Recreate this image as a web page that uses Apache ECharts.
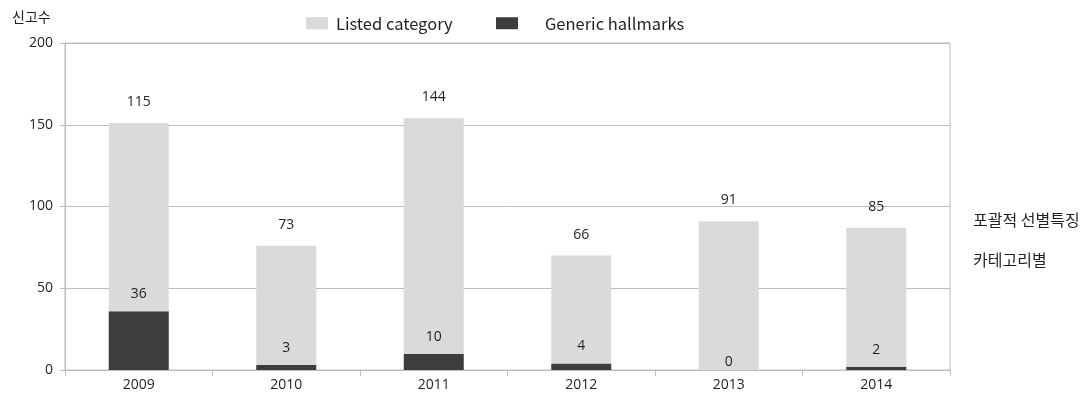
<!DOCTYPE html>
<html><head><meta charset="utf-8">
<script src="https://cdn.jsdelivr.net/npm/echarts@6/dist/echarts.min.js"></script>
<style>html,body{margin:0;padding:0;background:#fff}#c{width:1087px;height:399px}</style>
</head><body><div id="c"></div>
<script>
const categories = ['2009','2010','2011','2012','2013','2014'];
const listedCategory = [115, 73, 144, 66, 91, 85];
const genericHallmarks = [36, 3, 10, 4, 0, 2];
const yTicks = {min: 0, max: 200, interval: 50};
const yName = '신고수';
const sideNotes = ['포괄적 선별특징', '카테고리별'];

const numFont = '"Open Sans", "Noto Sans", sans-serif';
const krFont = '"Noto Sans CJK KR", sans-serif';
const chart = echarts.init(document.getElementById('c'));
chart.setOption({
  animation: false,
  grid: {left: 65, right: 137, top: 43, bottom: 29, show: true, borderColor: '#bdbdbd', borderWidth: 1},
  legend: [
    {data: ['Listed category'], left: 301, top: 10, itemWidth: 22, itemHeight: 12, icon: 'rect',
     textStyle: {fontFamily: krFont, fontSize: 16.5, color: '#231f20', padding: [0,0,0,3]}},
    {data: ['Generic hallmarks'], left: 491, top: 10, itemWidth: 22, itemHeight: 12, icon: 'rect',
     textStyle: {fontFamily: krFont, fontSize: 16.5, color: '#231f20', padding: [0,0,0,22]}}
  ],
  graphic: [
    {type: 'text', left: 12, top: 10, style: {text: yName, font: '14px ' + krFont, fill: '#231f20'}},
    {type: 'text', left: 973, top: 212, style: {text: sideNotes[0], font: '16px ' + krFont, fill: '#231f20'}},
    {type: 'text', left: 973, top: 252, style: {text: sideNotes[1], font: '16px ' + krFont, fill: '#231f20'}}
  ],
  xAxis: {
    type: 'category', data: categories,
    axisLine: {lineStyle: {color: '#bdbdbd'}},
    axisTick: {show: true, length: 6, lineStyle: {color: '#bdbdbd'}},
    axisLabel: {fontFamily: numFont, fontSize: 14, color: '#231f20', margin: 8}
  },
  yAxis: {
    type: 'value', min: yTicks.min, max: yTicks.max, interval: yTicks.interval,
    axisLine: {show: true, lineStyle: {color: '#bdbdbd'}},
    axisTick: {show: true, length: 5, lineStyle: {color: '#bdbdbd'}},
    splitLine: {lineStyle: {color: '#bdbdbd'}},
    axisLabel: {fontFamily: numFont, fontSize: 14, color: '#231f20', margin: 12}
  },
  series: [
    {name: 'Generic hallmarks', type: 'bar', stack: 's', barWidth: 60,
     data: genericHallmarks.map(v => v === 0 ? {value: v, label: {distance: 1}} : v),
     itemStyle: {color: '#3d3d3d'},
     label: {show: true, position: 'top', distance: 10, fontFamily: numFont, fontSize: 14, color: '#231f20'}},
    {name: 'Listed category', type: 'bar', stack: 's', data: listedCategory, barWidth: 60,
     itemStyle: {color: '#d9dadc'},
     label: {show: true, position: 'top', distance: 14, fontFamily: numFont, fontSize: 14, color: '#231f20'}}
  ]
});
</script></body></html>
